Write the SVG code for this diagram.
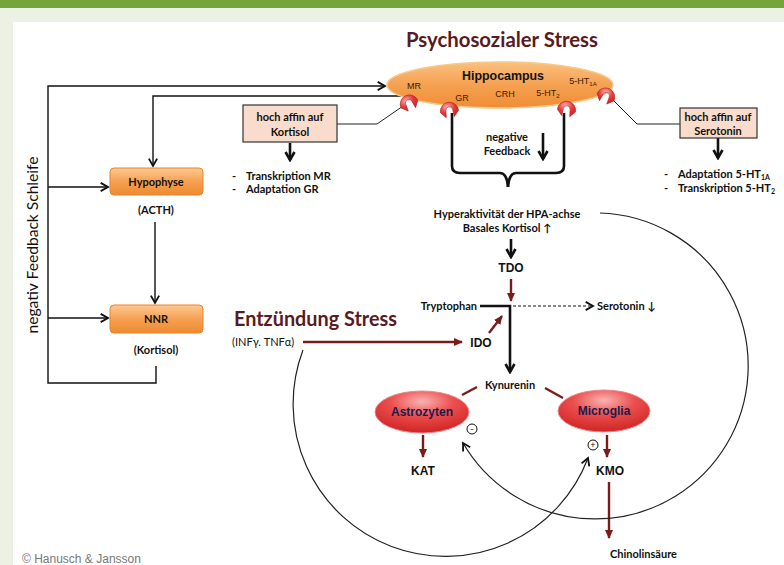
<svg xmlns="http://www.w3.org/2000/svg" width="784" height="565" viewBox="0 0 784 565">
<defs>
<style>
.cal{font-family:Lato,"Liberation Sans",sans-serif;font-weight:bold;font-size:11px;fill:#111}
.ari{font-family:"Liberation Sans",Arial,sans-serif;font-weight:bold;font-size:12px;fill:#111}
.sm{font-family:"Liberation Sans",Arial,sans-serif;font-size:9px;fill:#3a1a00}
.ln{fill:none;stroke:#111;stroke-width:1.4}
.thick{fill:none;stroke:#111;stroke-width:2.6}
.red{fill:none;stroke:#7b1c1c;stroke-width:2.4}
.box{fill:url(#og);stroke:#e8852c;stroke-width:1}
.pbox{fill:#f9dccb;stroke:#333;stroke-width:1.2}
.cell{fill:url(#rg);stroke:#e98a8a;stroke-width:1}
.ct{font-family:"Liberation Sans",Arial,sans-serif;font-weight:bold;font-size:12px;fill:#1c1c4a}
.mid{text-anchor:middle}
</style>
<linearGradient id="og" x1="0" y1="0" x2="0" y2="1"><stop offset="0" stop-color="#fdc993"/><stop offset="0.5" stop-color="#f6a052"/><stop offset="1" stop-color="#ee8a30"/></linearGradient>
<linearGradient id="hg" x1="0" y1="0" x2="0" y2="1"><stop offset="0" stop-color="#fbc07d"/><stop offset="0.5" stop-color="#f5a151"/><stop offset="1" stop-color="#f08c35"/></linearGradient>
<radialGradient id="rg" cx="0.5" cy="0.25" r="0.75"><stop offset="0" stop-color="#fbb3b3"/><stop offset="0.45" stop-color="#eb4e4e"/><stop offset="1" stop-color="#cf2424"/></radialGradient>
<radialGradient id="recg" cx="0.4" cy="0.3" r="0.8"><stop offset="0" stop-color="#fbb0b0"/><stop offset="0.5" stop-color="#e73a3a"/><stop offset="1" stop-color="#c41e1e"/></radialGradient>
<marker id="chev" markerUnits="userSpaceOnUse" viewBox="0 0 12 12" refX="10" refY="6" markerWidth="11" markerHeight="11" orient="auto"><path d="M2,1.5 L10,6 L2,10.5" fill="none" stroke="#111" stroke-width="2"/></marker>
<marker id="chevB" markerUnits="userSpaceOnUse" viewBox="0 0 12 12" refX="10" refY="6" markerWidth="12" markerHeight="12" orient="auto"><path d="M2,1.5 L10,6 L2,10.5" fill="none" stroke="#111" stroke-width="2.6"/></marker>
<marker id="rtri" markerUnits="userSpaceOnUse" viewBox="0 0 10 10" refX="9" refY="5" markerWidth="9" markerHeight="9" orient="auto"><path d="M0,0.5 L10,5 L0,9.5 Z" fill="#7b1c1c"/></marker>
<path id="rec" d="M-8,3 A8,8 0 1 1 8,3 L3.5,8 L3,2 A3,3 0 0 0 -3,2 L-3.5,8 Z" fill="url(#recg)" stroke="#b21a1a" stroke-width="0.5"/>
</defs>

<rect width="784" height="565" fill="#ebf1e3"/>
<rect width="784" height="8" fill="#74a53a"/>
<rect x="13" y="22" width="771" height="543" fill="#ffffff"/>

<text x="502" y="47" class="mid" font-family="Lato,'Liberation Sans',sans-serif" font-weight="bold" font-size="20" fill="#5a1a22" textLength="192" lengthAdjust="spacingAndGlyphs">Psychosozialer Stress</text>

<g id="connectors">
<path class="ln" d="M156,366 V383 H48 V86 H385" marker-end="url(#chev)"/>
<path class="ln" d="M48,187 H108" marker-end="url(#chev)"/>
<path class="ln" d="M48,318 H108" marker-end="url(#chev)"/>
<path class="ln" d="M401,96 H153 V166" marker-end="url(#chev)"/>
<path class="ln" d="M155,222 V303" marker-end="url(#chev)"/>
<path fill="none" stroke="#222" stroke-width="1" d="M337,124 H377 L403,106"/>
<path fill="none" stroke="#222" stroke-width="1" d="M680,124 H637 L612,99"/>
<path class="thick" d="M290,143 V160" marker-end="url(#chevB)"/>
<path class="thick" d="M718,138 V158" marker-end="url(#chevB)"/>
<path class="thick" d="M452,113 V166 Q452,173 460,173 H500 Q507,173 508,187"/>
<path class="thick" d="M564,113 V166 Q564,173 556,173 H516 Q509,173 508,187"/>
<path class="thick" stroke-width="2" d="M543,133 V159" marker-end="url(#chevB)"/>
<path class="thick" stroke-width="2" d="M511,239 V257" marker-end="url(#chevB)"/>
<path class="red" stroke-width="2" d="M511,279 V301" marker-end="url(#rtri)"/>
<path class="thick" stroke-width="3" d="M480,306 H510 V372" marker-end="url(#chevB)"/>
<path fill="none" stroke="#111" stroke-width="1" stroke-dasharray="3 2" d="M513,306 H593" marker-end="url(#chev)"/>
<path class="red" d="M489,333 L502,316" marker-end="url(#rtri)"/>
<path class="red" stroke-width="3" d="M303,342 H462" marker-end="url(#rtri)"/>
<path class="red" d="M462,395 L477,387"/>
<path class="red" d="M545,388 L563,398"/>
<path class="red" stroke-width="2" d="M423,435 V457" marker-end="url(#rtri)"/>
<path class="red" stroke-width="2" d="M607,435 V457" marker-end="url(#rtri)"/>
<path class="red" d="M609,482 V538" marker-end="url(#rtri)"/>
<path fill="none" stroke="#222" stroke-width="1.2" d="M303,350 A151,151 0 1 0 588,458" marker-end="url(#chev)"/>
<path fill="none" stroke="#222" stroke-width="1.2" d="M600,213 A153,153 0 1 1 463,443" marker-end="url(#chev)"/>
</g>

<g id="hippocampus">
<ellipse cx="500" cy="85" rx="113" ry="23" fill="url(#hg)" stroke="#f7c98a" stroke-width="1.5"/>
<text x="503" y="80" class="mid" font-family="'Liberation Sans',Arial,sans-serif" font-weight="bold" font-size="12.4" fill="#111">Hippocampus</text>
<text x="414" y="89" class="sm mid">MR</text>
<text x="462" y="101" class="sm mid">GR</text>
<text x="505" y="97" class="sm mid">CRH</text>
<text x="548" y="96" class="sm mid">5-HT<tspan font-size="6" dy="2">2</tspan></text>
<text x="583" y="84" class="sm mid">5-HT<tspan font-size="6" dy="2">1A</tspan></text>
<use href="#rec" transform="translate(408,101) rotate(-25) scale(1.15)"/>
<use href="#rec" transform="translate(449,108) rotate(-8) scale(1.15)"/>
<use href="#rec" transform="translate(567,107) rotate(8) scale(1.15)"/>
<use href="#rec" transform="translate(607,94) rotate(25) scale(1.15)"/>
</g>

<g id="hypophyse">
<rect x="110" y="168" width="93" height="27" rx="4" class="box"/>
<text x="156" y="186" class="cal mid" font-size="10.5" fill="#2a1200">Hypophyse</text>
<text x="156" y="214" class="cal mid" font-size="10.5">(ACTH)</text>
</g>
<g id="nnr">
<rect x="110" y="305" width="93" height="28" rx="4" class="box"/>
<text x="156" y="323" class="cal mid" font-size="10.5" fill="#2a1200">NNR</text>
<text x="156" y="354" class="cal mid" font-size="10.5">(Kortisol)</text>
</g>

<g id="feedback-label">
<text transform="translate(38,245) rotate(-90)" class="mid" font-family="Lato,'Liberation Sans',sans-serif" font-size="16" fill="#111" textLength="177" lengthAdjust="spacingAndGlyphs">negativ Feedback Schleife</text>
</g>

<g id="kortisol-box">
<rect x="243" y="105" width="94" height="37" class="pbox"/>
<text x="290" y="121" class="cal mid" font-size="10.5">hoch affin auf</text>
<text x="290" y="136" class="cal mid" font-size="10.5">Kortisol</text>
<text x="232" y="180" class="cal" font-size="10.5">-</text>
<text x="246" y="180" class="cal" font-size="10.5">Transkription MR</text>
<text x="232" y="193" class="cal" font-size="10.5">-</text>
<text x="246" y="193" class="cal" font-size="10.5">Adaptation GR</text>
</g>

<g id="serotonin-box">
<rect x="680" y="108" width="77" height="30" class="pbox"/>
<text x="718" y="121" class="cal mid" font-size="10.5">hoch affin auf</text>
<text x="718" y="135" class="cal mid" font-size="10.5">Serotonin</text>
<text x="664" y="178" class="cal" font-size="10.5">-</text>
<text x="678" y="178" class="cal" font-size="10.5">Adaptation 5-HT<tspan font-size="7" dy="2">1A</tspan></text>
<text x="664" y="192" class="cal" font-size="10.5">-</text>
<text x="678" y="192" class="cal" font-size="10.5">Transkription 5-HT<tspan font-size="7" dy="2">2</tspan></text>
</g>

<g id="negative-feedback">
<text x="507" y="141" class="cal mid" font-size="10.5">negative</text>
<text x="507" y="155" class="cal mid" font-size="10.5">Feedback</text>
</g>

<g id="hpa">
<text x="507" y="218" class="cal mid" font-size="10.5">Hyperaktivität der HPA-achse</text>
<text x="507" y="232" class="cal mid" font-size="10.5">Basales Kortisol ↑</text>
</g>
<g id="tdo"><text x="511" y="272" class="ari mid">TDO</text></g>
<g id="tryptophan"><text x="477" y="310" class="cal" font-size="10.5" text-anchor="end">Tryptophan</text></g>
<g id="serotonin"><text x="597" y="310" class="cal" font-size="10.5">Serotonin ↓</text></g>
<g id="ido"><text x="481" y="347" class="ari mid">IDO</text></g>

<g id="entzuendung">
<text x="234" y="326" font-family="Lato,'Liberation Sans',sans-serif" font-weight="bold" font-size="21" fill="#5a1a22" textLength="163" lengthAdjust="spacingAndGlyphs">Entzündung Stress</text>
<text x="232" y="346" font-family="Lato,'Liberation Sans',sans-serif" font-size="11" fill="#111">(INFγ. TNFα)</text>
</g>

<g id="kynurenin"><text x="510" y="389" class="cal mid" font-size="10.5">Kynurenin</text></g>

<g id="astrozyten">
<ellipse cx="422" cy="412" rx="47" ry="21" class="cell"/>
<text x="422" y="416" class="ct mid">Astrozyten</text>
<circle cx="472" cy="429" r="5" fill="#fff" stroke="#111" stroke-width="1"/>
<text x="472" y="432" class="mid" font-family="'Liberation Sans',Arial,sans-serif" font-size="9" fill="#111">-</text>
</g>
<g id="microglia">
<ellipse cx="604" cy="411" rx="46" ry="21" class="cell"/>
<text x="604" y="415" class="ct mid">Microglia</text>
<circle cx="593" cy="445" r="5" fill="#fff" stroke="#111" stroke-width="1"/>
<text x="593" y="448" class="mid" font-family="'Liberation Sans',Arial,sans-serif" font-size="9" fill="#111">+</text>
</g>
<g id="kat"><text x="423" y="475" class="ari mid">KAT</text></g>
<g id="kmo"><text x="610" y="475" class="ari mid">KMO</text></g>
<g id="chinolinsaeure"><text x="610" y="558" class="cal" font-size="10.5">Chinolinsäure</text></g>

<text x="22" y="563" font-family="'Liberation Sans',Arial,sans-serif" font-size="12" fill="#777">© Hanusch &amp; Jansson</text>
</svg>
